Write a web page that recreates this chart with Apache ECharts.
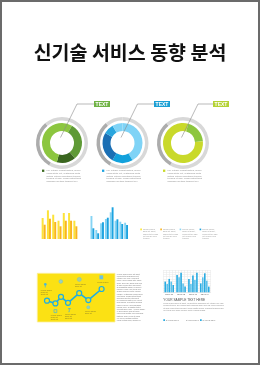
<!DOCTYPE html>
<html><head><meta charset="utf-8">
<script src="https://cdn.jsdelivr.net/npm/echarts@6/dist/echarts.min.js"></script>
<style>html,body{margin:0;padding:0;background:#fff}#c{width:260px;height:365px}</style>
</head><body><div id="c"></div>
<script>
// ---------- data ----------
const chartTitle = '신기술 서비스 동향 분석';
const ringLabels = ['TEXT', 'TEXT', 'TEXT'];
const ringGreen = [8.3, 30.6, 15.3, 45.8];
const ringBlue = [41.7, 16.7, 25, 8.3, 8.3];
const ringLime = [4.2, 19.4, 76.4];
const outerRing = [58.3, 30.6, 11.1];

const yellowCats = ['1', '2', '3', '4', '5', '6', '7'];
const yellowA = [21, 28.7, 24.3, 18.3, 26, 26, 18.3];
const yellowB = [14.3, 20.3, 17, 12.7, 18.3, 18.3, 12.7];

const blueCats = ['1', '2', '3', '4', '5', '6', '7', '8'];
const blueA = [23, 9, 15.7, 20, 26.7, 18.3, 17.3, 16.3];
const blueB = [10.7, 5.7, 16.7, 21.3, 31.7, 19.7, 15, 14];

const stepX = [10, 22, 30, 40, 56, 69, 88];
const stepY = [31, 22, 44, 24, 56, 33, 70];

const sampleCats = ['TEXT 01', 'TEXT 02', 'TEXT 03', 'TEXT 04'];
const sampleS1 = [12, 19.4, 15, 10];
const sampleS2 = [9.3, 16.8, 9.3, 16.8];
const sampleS3 = [15, 22, 18.7, 21.3];
const sampleS4 = [12, 10, 13.8, 13];
const sampleS5 = [8.2, 6.4, 22, 6.4];

const captionLines = [
  'Lor. Integer feugiat dictum, donec',
  'consectetur elit, vestibulum porta',
  'dictum integer sollicitudin tempus',
  'tempus et nam. Class aptent taciti',
  'sociosqu ad litora torquent per'
];
const legendLines = ['Lorem ipsum', 'dolor sit amet,', 'consectetur adip', 'elit sed do eius', 'tempor.'];
const columnLines = [
  'Lorem ipsum dolor sit amet,', 'consectetur adipiscing elit.', 'Integer nec odio. Praesent',
  'libero. Sed cursus ante dapib', 'diam. Sed nisi. Nulla quis sem', 'at nibh elementum imperdiet.',
  'Duis sagittis ipsum. Praesent', 'mauris. Fusce nec tellus sed', 'augue semper porta. Mauris',
  'massa. Vestibulum lacinia arcu', 'eget nulla. Class aptent taciti', 'sociosqu ad litora torquent',
  'per conubia nostra, per incept', 'himenaeos. Curabitur sodales', 'ligula in libero. Sed dignissim',
  'lacinia nunc. Curabitur tortor.', 'Pellentesque nibh. Aenean quam.', 'In scelerisque sem at dolor.',
  'Maecenas mattis. Sed convallis', 'tristique sem. Proin ut ligula', 'vel nunc egestas porttitor.',
  'Morbi lectus risus, iaculis vel'
];
const paraLines = [
  'Lorem ipsum dolor sit amet, consectetur adipiscing elit. Integer nec odio.',
  'Praesent libero. Sed cursus ante dapibus diam. Sed nisi. Nulla quis sem',
  'at nibh elementum imperdiet. Duis sagittis ipsum. Praesent mauris fusce',
  'nec tellus sed augue semper porta. Mauris massa.'
];
const sampleHeading = 'YOUR SAMPLE TEXT HERE';
const sampleLegend = ['SAMPLE TEXT', 'SAMPLE TEXT', 'SAMPLE TEXT'];
const stepNotes = [['Lorem ipsum', 'dolor sit', 'amet elit'], ['Lorem ipsum', 'dolor sit'], ['Lorem ipsum'],
  ['Lorem ipsum', 'dolor sit', 'amet elit'], ['Lorem ipsum', 'dolor sit', 'amet elit'], ['Lorem ipsum', 'dolor sit']];

// ---------- layout ----------
const FONT = '"Liberation Sans", Arial, sans-serif';
const donuts = [
  {cx: 62, data: ringGreen, colors: ['#8cc63f', '#5f9a36', '#3a661f', '#8cc63f'], box: 94, boxColor: '#6fb244', bx: 42, bullet: '#3d6b22'},
  {cx: 122.5, data: ringBlue, colors: ['#7fd3f6', '#12a1dc', '#1b6fb4', '#2aa6de', '#7fd3f6'], box: 154, boxColor: '#1a9fd4', bx: 102, bullet: '#1fa4e0'},
  {cx: 183, data: ringLime, colors: ['#c9d92b', '#8dc63f', '#c9d92b'], box: 213, boxColor: '#b4d234', bx: 163, bullet: '#c9d92b'}
];
const CY = 143;

const series = [];
const graphic = [];

graphic.push({type: 'rect', z: 100, shape: {x: 1, y: 1, width: 258, height: 363}, style: {fill: 'none', stroke: '#6b6b6b', lineWidth: 2}});
graphic.push({type: 'text', z: 10, style: {text: chartTitle, x: 130, y: 53, align: 'center', verticalAlign: 'middle', textAlign: 'center', textVerticalAlign: 'middle', font: 'bold 19.5px "Noto Sans CJK KR"', fill: '#111'}});

function textBlock(x, y, lines, size, lh, color, z) {
  graphic.push({type: 'text', z: z || 10, style: {text: lines.join('\n'), x: x, y: y, align: 'left', verticalAlign: 'top', textAlign: 'left', textVerticalAlign: 'top', fontSize: size, fontFamily: FONT, lineHeight: lh, fill: color}});
}

donuts.forEach((d, i) => {
  series.push({
    type: 'pie', silent: true, animation: false, center: [d.cx, CY], radius: [22.5, 26], startAngle: 90,
    label: {show: false}, labelLine: {show: false}, itemStyle: {borderWidth: 0},
    data: outerRing.map((v, k) => ({value: v, itemStyle: {color: ['#d8d8d8', '#acacac', '#d8d8d8'][k]}}))
  });
  series.push({
    type: 'pie', silent: true, animation: false, center: [d.cx, CY], radius: [12, 20], startAngle: 90,
    label: {show: false}, labelLine: {show: false}, itemStyle: {borderWidth: 0},
    data: d.data.map((v, k) => ({value: v, itemStyle: {color: d.colors[k]}}))
  });
  graphic.push({type: 'polyline', z: 10, shape: {points: [[d.cx - 1.5, 137.5], [d.cx + 15, 104], [d.box, 104]]}, style: {fill: null, stroke: '#8a8a8a', lineWidth: 0.6}});
  graphic.push({type: 'rect', z: 10, shape: {x: d.box, y: 101, width: 16, height: 6}, style: {fill: d.boxColor}});
  graphic.push({type: 'text', z: 11, style: {text: ringLabels[i], x: d.box + 8, y: 104.2, align: 'center', verticalAlign: 'middle', textAlign: 'center', textVerticalAlign: 'middle', font: 'bold 5px ' + FONT, fill: '#fff'}});
  graphic.push({type: 'rect', z: 10, shape: {x: d.bx, y: 169.6, width: 2.3, height: 2.3}, style: {fill: d.bullet}});
  textBlock(d.bx + 4.5, 169.3, captionLines, 2.3, 2.7, '#8d8d8d');
});

// legend beside bar charts
const legColors = ['#fde42c', '#f9b21b', '#86d4f4', '#1ca3e0'];
[140.3, 160.3, 179.6, 199.6].forEach((x, i) => {
  graphic.push({type: 'rect', z: 10, shape: {x: x, y: 228.6, width: 1.6, height: 1.6}, style: {fill: legColors[i]}});
  textBlock(x + 2.6, 228.3, legendLines, 2.1, 2.35, '#9a9a9a');
});

// yellow panel
graphic.push({type: 'rect', z: 0, shape: {x: 37.3, y: 273.3, width: 77.7, height: 48.7}, style: {fill: '#fbe114', stroke: '#fdf09a', lineWidth: 0.8}});
// icons
const ic = '#45b6dd';
graphic.push({type: 'circle', z: 3, shape: {cx: 45.3, cy: 284.3, r: 1.3}, style: {fill: ic}});
graphic.push({type: 'line', z: 3, shape: {x1: 45.3, y1: 285, x2: 45.3, y2: 287.5}, style: {stroke: ic, lineWidth: 0.7}});
graphic.push({type: 'circle', z: 3, shape: {cx: 60.8, cy: 281.5, r: 1.8}, style: {fill: '#9fd1bf', stroke: '#74c2c4', lineWidth: 0.6}});
graphic.push({type: 'circle', z: 3, shape: {cx: 79.3, cy: 279.4, r: 2}, style: {fill: '#a8cf98', stroke: '#7fc3c0', lineWidth: 0.6}});
graphic.push({type: 'rect', z: 3, shape: {x: 99.4, y: 275.3, width: 3.8, height: 4}, style: {fill: '#6fc3dc'}});
graphic.push({type: 'rect', z: 3, shape: {x: 54, y: 309.6, width: 2.8, height: 3}, style: {fill: 'none', stroke: ic, lineWidth: 0.7}});
graphic.push({type: 'polyline', z: 3, shape: {points: [[68, 308.6], [70.6, 308.6], [69.3, 308.6], [69.3, 311.8], [68.4, 311.8]]}, style: {fill: null, stroke: ic, lineWidth: 0.7}});
graphic.push({type: 'circle', z: 3, shape: {cx: 88.3, cy: 307.3, r: 1.5}, style: {fill: '#8dd0c4', stroke: '#6fc2c6', lineWidth: 0.5}});
const noteC = '#8a7c28';
textBlock(40.8, 289.6, stepNotes[0], 1.9, 2, noteC, 3);
textBlock(75, 283.6, stepNotes[1], 1.9, 2, noteC, 3);
textBlock(97.3, 281.2, stepNotes[2], 1.9, 2, noteC, 3);
textBlock(50.8, 314.2, stepNotes[3], 1.9, 2, noteC, 3);
textBlock(65, 313, stepNotes[4], 1.9, 2, noteC, 3);
textBlock(85, 310.2, stepNotes[5], 1.9, 2, noteC, 3);

// right text column
textBlock(116.8, 273.2, columnLines, 1.9, 2.2, '#7d7d7d');

// bottom right texts
graphic.push({type: 'text', z: 10, style: {text: sampleHeading, x: 163.3, y: 300.2, align: 'left', verticalAlign: 'middle', textAlign: 'left', textVerticalAlign: 'middle', font: '3.2px ' + FONT, fill: '#555'}});
textBlock(163.3, 302.6, paraLines, 1.9, 2.2, '#8d8d8d');
const sLegColors = ['#29abe2', null, '#29abe2'];
[163.3, 183.5, 200].forEach((x, i) => {
  if (sLegColors[i]) graphic.push({type: 'rect', z: 10, shape: {x: x, y: 319.3, width: 1.7, height: 1.7}, style: {fill: sLegColors[i]}});
  textBlock(x + 2.5, 319.3, [sampleLegend[i]], 1.9, 2, '#7d7d7d');
});

// ---------- axes ----------
const hiddenCat = (gi, cats) => ({type: 'category', gridIndex: gi, data: cats, show: false});
const hiddenVal = (gi, max) => ({type: 'value', gridIndex: gi, min: 0, max: max, show: false});

const grid = [
  {left: 41, top: 209, width: 37, height: 30},
  {left: 90, top: 207, width: 38.5, height: 32},
  {left: 40, top: 280, width: 70, height: 30},
  {left: 163.3, top: 270, width: 47.4, height: 22.3}
];
const xAxis = [
  hiddenCat(0, yellowCats),
  hiddenCat(1, blueCats),
  {type: 'value', gridIndex: 2, min: 0, max: 100, show: false},
  {type: 'category', gridIndex: 3, data: sampleCats, axisTick: {show: false},
   axisLine: {lineStyle: {color: '#dcdcdc', width: 0.5}},
   axisLabel: {fontSize: 2, color: '#555', margin: 1, fontFamily: FONT}},
  {type: 'value', gridIndex: 3, min: 0, max: 16, interval: 1, position: 'top',
   axisLine: {show: false}, axisTick: {show: false}, axisLabel: {show: false},
   splitLine: {show: true, lineStyle: {color: '#e6e6e6', width: 0.5}}}
];
const yAxis = [
  hiddenVal(0, 30),
  hiddenVal(1, 32),
  hiddenVal(2, 100),
  {type: 'value', gridIndex: 3, min: 0, max: 25, interval: 2.5, axisLine: {show: false}, axisTick: {show: false},
   axisLabel: {show: false}, splitLine: {show: true, lineStyle: {color: '#e6e6e6', width: 0.5}}}
];

series.push({type: 'bar', xAxisIndex: 0, yAxisIndex: 0, data: yellowA, barWidth: 2, barGap: '0%', itemStyle: {color: '#fce33a'}, silent: true, animation: false});
series.push({type: 'bar', xAxisIndex: 0, yAxisIndex: 0, data: yellowB, barWidth: 2, barGap: '0%', itemStyle: {color: '#f9b51c'}, silent: true, animation: false});
series.push({type: 'bar', xAxisIndex: 1, yAxisIndex: 1, data: blueA, barWidth: 1.9, barGap: '0%', itemStyle: {color: '#86d4f4'}, silent: true, animation: false});
series.push({type: 'bar', xAxisIndex: 1, yAxisIndex: 1, data: blueB, barWidth: 1.9, barGap: '0%', itemStyle: {color: '#1ca3e0'}, silent: true, animation: false});

series.push({type: 'line', xAxisIndex: 2, yAxisIndex: 2, z: 5, silent: true, animation: false,
  data: stepX.map((x, i) => [x, stepY[i]]), symbol: 'circle', symbolSize: 5,
  lineStyle: {color: '#1eaee3', width: 1.6},
  itemStyle: {color: '#fbe114', borderColor: '#1eaee3', borderWidth: 1.2}});

const sColors = ['#29abe2', '#5dc3ec', '#29abe2', '#5dc3ec', '#29abe2'];
[sampleS1, sampleS2, sampleS3, sampleS4, sampleS5].forEach((arr, i) => {
  series.push({type: 'bar', xAxisIndex: 3, yAxisIndex: 3, data: arr, barWidth: 1.6, barGap: '25%', itemStyle: {color: sColors[i]}, silent: true, animation: false});
});

const chart = echarts.init(document.getElementById('c'), null, {renderer: 'canvas'});
chart.setOption({
  animation: false,
  backgroundColor: '#fff',
  grid: grid,
  xAxis: xAxis,
  yAxis: yAxis,
  series: series,
  graphic: {elements: graphic}
});
</script>
</body></html>
